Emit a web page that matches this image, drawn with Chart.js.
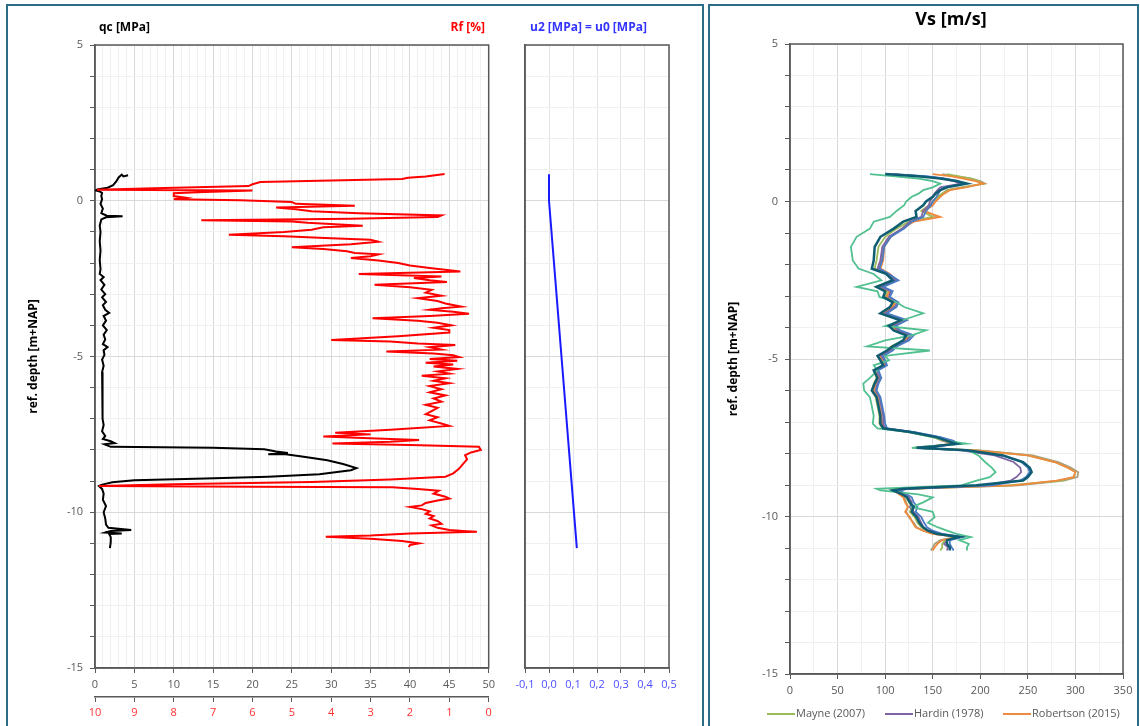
<!DOCTYPE html>
<html>
<head>
<meta charset="utf-8">
<script src="https://cdn.jsdelivr.net/npm/chart.js@4.4.1/dist/chart.umd.min.js"></script>
<style>
  body { margin: 0; background: #fff; width: 1140px; height: 726px; overflow: hidden; position: relative; }
  .panel { position: absolute; border: 2px solid #2b6c86; box-sizing: border-box; }
  canvas { position: absolute; top: 0; }
</style>
</head>
<body>
<div class="panel" style="left:6px;top:4px;width:698px;height:740px"></div>
<div class="panel" style="left:708px;top:4px;width:431px;height:740px"></div>
<canvas id="cptChart" width="500" height="726" style="left:0"></canvas>
<canvas id="u2Chart" width="200" height="726" style="left:500px"></canvas>
<canvas id="vsChart" width="430" height="726" style="left:710px"></canvas>
<script>
// cone resistance qc [MPa] against depth [m+NAP]
var qcDepth = [0.82, 0.78, 0.84, 0.75, 0.62, 0.50, 0.42, 0.36, 0.33, 0.30, 0.25, 0.15, 0.05, -0.10, -0.25, -0.40, -0.48, -0.50, -0.53, -0.60,
  -0.80, -1.00, -1.30, -1.60, -1.90, -2.20, -2.35, -2.45, -2.55, -2.70, -2.85, -3.00, -3.10, -3.25, -3.35, -3.50, -3.60, -3.70, -3.85, -4.00,
  -4.15, -4.30, -4.45, -4.60, -4.70, -4.80, -4.95, -5.10, -5.30, -5.50, -5.80, -6.10, -6.40, -6.70, -7.00, -7.20, -7.40, -7.55, -7.65, -7.72,
  -7.78, -7.82, -7.90, -7.93, -7.98, -8.05, -8.10, -8.14, -8.13, -8.22, -8.33, -8.45, -8.58, -8.65, -8.78, -8.86, -8.92, -8.97, -9.04, -9.12,
  -9.16, -9.25, -9.40, -9.60, -9.80, -10.00, -10.20, -10.40, -10.50, -10.57, -10.60, -10.65, -10.68, -10.70, -10.80, -10.95, -11.15];
var qcValues = [4.2, 3.6, 3.4, 3.0, 2.7, 2.3, 1.6, 0.3, 0.1, 0.6, 0.9, 0.8, 0.9, 0.7, 1.0, 0.8, 1.5, 3.5, 1.4, 0.8,
  0.6, 0.7, 0.6, 0.7, 0.6, 0.7, 0.6, 1.1, 0.7, 1.2, 0.8, 1.3, 0.9, 1.4, 1.0, 1.3, 1.8, 1.1, 1.4, 1.0,
  1.5, 1.1, 1.3, 1.0, 1.6, 1.1, 1.2, 0.9, 1.1, 0.9, 1.0, 0.9, 1.0, 0.9, 1.0, 1.1, 0.9, 1.3, 1.0, 2.0,
  2.5, 1.2, 2.0, 15.0, 21.5, 23.0, 24.5, 22.0, 24.0, 26.5, 29.5, 31.5, 33.2, 32.5, 28.5, 22.0, 14.0, 5.0, 2.2, 0.8,
  0.5, 0.9, 1.1, 1.0, 1.4, 1.1, 1.3, 1.4, 1.7, 4.6, 2.0, 1.3, 3.4, 1.8, 2.0, 2.0, 1.9];

// friction ratio Rf [%]
var rfDepth = [0.86, 0.78, 0.74, 0.70, 0.60, 0.53, 0.47, 0.40, 0.35, 0.33, 0.27, 0.24, 0.15, 0.10, 0.05, 0.02, -0.04, -0.10, -0.16, -0.22,
  -0.27, -0.34, -0.40, -0.47, -0.52, -0.58, -0.63, -0.67, -0.71, -0.80, -0.85, -0.93, -1.00, -1.09, -1.14, -1.20, -1.25, -1.32, -1.40, -1.49,
  -1.55, -1.62, -1.68, -1.72, -1.78, -1.84, -1.92, -2.00, -2.08, -2.16, -2.27, -2.35, -2.43, -2.48, -2.55, -2.61, -2.70, -2.78, -2.86, -2.95,
  -3.05, -3.13, -3.22, -3.30, -3.40, -3.45, -3.50, -3.56, -3.63, -3.70, -3.77, -3.85, -3.92, -4.00, -4.08, -4.15, -4.23, -4.35, -4.47, -4.52,
  -4.58, -4.63, -4.70, -4.78, -4.84, -4.90, -4.96, -5.02, -5.08, -5.14, -5.20, -5.26, -5.32, -5.40, -5.48, -5.55, -5.62, -5.70, -5.78, -5.86,
  -5.95, -6.05, -6.15, -6.25, -6.35, -6.45, -6.55, -6.65, -6.75, -6.85, -6.95, -7.05, -7.15, -7.23, -7.35, -7.45, -7.50, -7.57, -7.62, -7.68,
  -7.74, -7.79, -7.84, -7.90, -8.00, -8.08, -8.17, -8.30, -8.45, -8.60, -8.75, -8.86, -8.95, -9.03, -9.10, -9.16, -9.18, -9.20, -9.25, -9.31,
  -9.40, -9.50, -9.56, -9.62, -9.70, -9.78, -9.83, -9.90, -9.97, -10.05, -10.12, -10.20, -10.28, -10.37, -10.42, -10.50, -10.57, -10.63, -10.68, -10.75,
  -10.79, -10.85, -10.92, -11.00, -11.05, -11.12];
var rfValues = [1.12, 1.6, 2.05, 2.2, 5.8, 6.0, 6.1, 8.5, 9.95, 6.0, 7.4, 8.0, 8.0, 7.7, 8.0, 6.3, 5.0, 4.9, 3.4, 5.4,
  4.9, 4.5, 3.3, 1.2, 1.3, 3.5, 7.3, 5.0, 4.6, 3.2, 4.2, 4.5, 5.2, 6.6, 5.2, 4.0, 3.0, 2.8, 3.5, 5.0,
  4.2, 3.6, 3.4, 2.8, 3.0, 3.5, 2.8, 2.3, 2.0, 1.5, 0.72, 3.3, 1.2, 1.9, 1.5, 1.06, 2.9, 2.0, 1.45, 1.6,
  1.2, 1.8, 1.3, 1.1, 0.7, 1.2, 1.5, 0.9, 0.5, 1.5, 2.95, 1.8, 1.3, 0.95, 1.4, 1.0, 1.0, 2.3, 4.0, 2.5,
  1.8, 0.85, 1.5, 1.2, 2.6, 1.4, 0.9, 0.75, 1.5, 0.8, 1.6, 0.9, 1.4, 0.8, 1.3, 1.0, 1.7, 1.1, 1.4, 1.0,
  1.5, 1.2, 1.5, 1.1, 1.4, 1.2, 1.6, 1.3, 1.45, 1.6, 1.3, 1.5, 1.2, 1.0, 2.5, 3.9, 3.0, 4.2, 3.2, 1.77,
  2.5, 3.97, 2.0, 0.25, 0.2, 0.45, 0.6, 0.55, 0.65, 0.75, 0.9, 1.1, 2.5, 4.5, 8.0, 9.9, 6.0, 2.45, 1.8, 1.27,
  1.4, 1.1, 1.0, 1.3, 1.6, 1.7, 2.0, 1.7, 1.5, 1.6, 1.4, 1.5, 1.3, 1.2, 1.45, 1.3, 1.0, 0.3, 2.0, 3.0,
  4.14, 3.0, 2.2, 1.77, 2.0, 2.03];

// pore pressure u2 = u0 [MPa]
var u2Depth = [0.85, 0.0, -11.15];
var u2Values = [0.0, 0.0, 0.116];

// shear wave velocity Vs [m/s], all correlations share one depth list
var vsDepth = [0.87, 0.80, 0.73, 0.65, 0.57, 0.45, 0.36, 0.25, 0.15, 0.0, -0.12, -0.30, -0.49, -0.64, -0.86, -1.12, -1.44, -1.87, -2.13, -2.30,
  -2.50, -2.71, -2.85, -3.03, -3.20, -3.35, -3.55, -3.77, -3.95, -4.09, -4.25, -4.41, -4.60, -4.73, -4.90, -5.04, -5.20, -5.36, -5.60, -5.78,
  -6.00, -6.21, -6.50, -6.80, -7.05, -7.20, -7.32, -7.48, -7.60, -7.69, -7.78, -7.82, -7.90, -8.06, -8.27, -8.45, -8.59, -8.75, -8.86, -9.01,
  -9.12, -9.17, -9.30, -9.39, -9.55, -9.70, -9.85, -10.02, -10.20, -10.34, -10.45, -10.55, -10.65, -10.75, -10.87, -10.98, -11.08];
var vsMayne = [165, 178, 190, 198, 203, 182, 166, 160, 155, 150, 146, 138, 150, 125, 112, 100, 93, 91, 89, 102,
  108, 90, 102, 100, 110, 108, 97, 118, 106, 110, 124, 120, 106, 103, 93, 96, 97, 88, 91, 88,
  86, 90, 92, 94, 94, 97, 125, 150, 162, 174, 148, 132, 196, 250, 278, 292, 300, 298, 285, 230,
  120, 108, 117, 122, 125, 128, 126, 131, 134, 138, 144, 153, 176, 163, 160, 160, 158];
var vsHardin = [105, 140, 160, 172, 180, 158, 155, 152, 150, 147, 146, 140, 138, 126, 118, 104, 97, 95, 92, 103,
  112, 96, 106, 104, 113, 110, 100, 121, 109, 114, 127, 123, 110, 106, 96, 99, 101, 91, 95, 92,
  90, 94, 96, 98, 98, 100, 130, 156, 170, 178, 152, 134, 180, 215, 235, 242, 243, 238, 232, 205,
  120, 112, 120, 125, 128, 126, 130, 135, 138, 140, 146, 156, 180, 166, 162, 166, 165];
var vsRobertson = [150, 170, 182, 195, 203, 185, 168, 162, 158, 153, 150, 140, 158, 130, 118, 106, 99, 98, 95, 105,
  112, 96, 105, 101, 111, 107, 99, 118, 107, 112, 125, 121, 111, 104, 94, 96, 99, 89, 93, 90,
  88, 92, 94, 96, 97, 100, 128, 152, 162, 174, 146, 130, 195, 250, 278, 292, 300, 298, 280, 235,
  122, 110, 115, 119, 121, 124, 121, 126, 129, 132, 140, 150, 178, 160, 155, 152, 150];
var vsAqua = [84, 110, 135, 150, 158, 150, 140, 135, 128, 122, 120, 112, 105, 88, 84, 70, 64, 66, 72, 88,
  96, 70, 92, 94, 112, 120, 140, 118, 100, 143, 128, 100, 81, 147, 100, 104, 88, 92, 84, 77,
  78, 84, 86, 88, 87, 92, 125, 150, 165, 185, 140, 128, 188, 198, 205, 212, 216, 210, 196, 180,
  91, 95, 135, 150, 140, 128, 150, 152, 145, 155, 165, 175, 190, 178, 188, 186, 186];
var vsTan = [160, 175, 190, 200, 205, 180, 165, 160, 157, 152, 150, 142, 155, 128, 118, 105, 98, 96, 94, 104,
  110, 95, 104, 102, 110, 108, 100, 119, 108, 112, 126, 122, 112, 105, 95, 97, 100, 90, 93, 90,
  88, 93, 94, 96, 96, 99, 128, 152, 160, 172, 146, 130, 200, 255, 282, 295, 303, 302, 288, 240,
  125, 112, 116, 120, 122, 124, 122, 125, 130, 133, 140, 150, 175, 158, 152, 150, 148];
var vsBlue = [110, 145, 162, 176, 183, 162, 158, 156, 154, 150, 148, 143, 140, 128, 120, 106, 99, 97, 94, 104,
  114, 98, 108, 105, 114, 112, 102, 123, 111, 116, 130, 125, 112, 108, 98, 100, 102, 93, 96, 93,
  91, 95, 97, 99, 100, 102, 131, 158, 172, 176, 150, 134, 184, 222, 243, 250, 252, 248, 242, 212,
  124, 115, 123, 128, 130, 134, 132, 138, 141, 144, 150, 160, 182, 168, 168, 170, 172];
var vsTeal = [100, 135, 158, 175, 186, 165, 158, 153, 150, 143, 140, 132, 133, 119, 109, 95, 89, 88, 86, 101,
  108, 91, 100, 98, 108, 105, 95, 116, 104, 109, 122, 119, 108, 102, 92, 95, 98, 88, 92, 89,
  86, 91, 93, 95, 95, 98, 126, 154, 165, 175, 150, 133, 186, 224, 245, 252, 254, 250, 245, 196,
  119, 108, 118, 123, 126, 130, 128, 133, 136, 140, 145, 154, 178, 165, 165, 168, 168];

function pairs(xs, ys) {
  return ys.map(function (d, i) { return { x: xs[i], y: d }; });
}

Chart.defaults.font.family = "'Open Sans', sans-serif";
Chart.defaults.font.size = 11;
Chart.defaults.color = '#595959';

// plot frame, panel titles and a line-sample legend
var frameAndText = {
  id: 'frameAndText',
  beforeDatasetsDraw: function (chart) {
    var ctx = chart.ctx, a = chart.chartArea;
    ctx.save();
    ctx.strokeStyle = '#595959';
    ctx.lineWidth = 1.5;
    ctx.strokeRect(a.left, a.top, a.right - a.left, a.bottom - a.top);
    ctx.restore();
  },
  afterDraw: function (chart, args, opts) {
    var ctx = chart.ctx;
    ctx.save();
    ctx.textBaseline = 'middle';
    (opts.texts || []).forEach(function (t) {
      ctx.font = t.font;
      ctx.fillStyle = t.color;
      ctx.textAlign = t.align;
      ctx.fillText(t.text, t.x, t.y);
    });
    (opts.legend || []).forEach(function (item) {
      var ds = chart.data.datasets[item.index];
      ctx.strokeStyle = ds.borderColor;
      ctx.lineWidth = 2;
      ctx.beginPath();
      ctx.moveTo(item.x, item.y);
      ctx.lineTo(item.x + 28, item.y);
      ctx.stroke();
      ctx.font = "11px 'Open Sans'";
      ctx.fillStyle = '#595959';
      ctx.textAlign = 'left';
      ctx.fillText(ds.label, item.x + 29, item.y);
    });
    ctx.restore();
  }
};

function majorGrid(step) {
  return function (c) { return c.tick && c.tick.value % step === 0 ? '#d9d9d9' : '#f0f0f0'; };
}

function depthAxis(width, titlePad, showLabels) {
  return {
    min: -15, max: 5,
    ticks: { stepSize: 1, autoSkip: false, display: showLabels, padding: 7,
      callback: function (v) { return v % 5 === 0 ? v : ''; } },
    grid: { color: majorGrid(5), tickColor: '#595959', tickLength: 5, drawTicks: showLabels },
    border: { color: '#595959', width: 1.5 },
    title: { display: showLabels, text: 'ref. depth [m+NAP]', color: '#000',
      font: { size: 12, weight: 'bold' }, padding: { top: titlePad, bottom: 0 } },
    afterFit: function (s) { s.width = width; }
  };
}

new Chart(document.getElementById('cptChart'), {
  type: 'scatter',
  data: {
    datasets: [{
      label: 'Rf [%]',
      data: pairs(rfValues, rfDepth),
      xAxisID: 'xRf',
      borderColor: '#ff0000',
      borderWidth: 2,
      showLine: true,
      pointRadius: 0
    }, {
      label: 'qc [MPa]',
      data: pairs(qcValues, qcDepth),
      xAxisID: 'x',
      borderColor: '#000000',
      borderWidth: 2,
      showLine: true,
      pointRadius: 0
    }]
  },
  options: {
    responsive: false,
    animation: false,
    layout: { padding: { top: 45, right: 10, bottom: 0, left: 0 } },
    plugins: {
      legend: { display: false },
      tooltip: { enabled: false },
      frameAndText: { texts: [
        { text: 'qc [MPa]', x: 99, y: 28, align: 'left', color: '#000', font: "bold 12px 'Open Sans'" },
        { text: 'Rf [%]', x: 485, y: 28, align: 'right', color: '#ff0000', font: "bold 12px 'Open Sans'" }
      ] }
    },
    scales: {
      x: {
        type: 'linear', axis: 'x', position: 'bottom', min: 0, max: 50,
        ticks: { stepSize: 1, autoSkip: false, maxRotation: 0, padding: 5,
          callback: function (v) { return v % 5 === 0 ? v : ''; } },
        grid: { color: majorGrid(5), tickLength: 5,
          tickColor: function (c) { return c.tick.value % 5 === 0 ? '#595959' : 'rgba(0,0,0,0)'; } },
        border: { color: '#595959', width: 1.5 },
        afterFit: function (s) { s.height = 29; }
      },
      xRf: {
        type: 'linear', axis: 'x', position: 'bottom', min: 0, max: 10, reverse: true,
        ticks: { stepSize: 1, maxRotation: 0, padding: 4, color: '#ff3030' },
        grid: { drawOnChartArea: false, tickLength: 5, tickColor: '#595959' },
        border: { color: '#595959', width: 1.5 },
        afterFit: function (s) { s.height = 29; }
      },
      y: depthAxis(95, 26, true)
    }
  },
  plugins: [frameAndText]
});

new Chart(document.getElementById('u2Chart'), {
  type: 'scatter',
  data: {
    datasets: [{
      label: 'u2 [MPa] = u0 [MPa]',
      data: pairs(u2Values, u2Depth),
      borderColor: '#1a1aff',
      borderWidth: 2,
      showLine: true,
      pointRadius: 0
    }]
  },
  options: {
    responsive: false,
    animation: false,
    layout: { padding: { top: 45, right: 31, bottom: 29, left: 0 } },
    plugins: {
      legend: { display: false },
      tooltip: { enabled: false },
      frameAndText: { texts: [
        { text: 'u2 [MPa] = u0 [MPa]', x: 30, y: 28, align: 'left', color: '#3333ff', font: "bold 12px 'Open Sans'" }
      ] }
    },
    scales: {
      x: {
        min: -0.1, max: 0.5,
        ticks: { stepSize: 0.1, maxRotation: 0, padding: 5, color: '#4d4dff',
          callback: function (v) {
            var r = Math.abs(v) < 1e-9 ? 0 : v;
            return r.toFixed(1).replace('.', ',');
          } },
        grid: { color: '#e3e3e3', tickColor: '#595959', tickLength: 5 },
        border: { color: '#595959', width: 1.5 },
        afterFit: function (s) { s.height = 29; }
      },
      y: depthAxis(25, 0, false)
    }
  },
  plugins: [frameAndText]
});

function vsLine(label, values, color, width, order) {
  return {
    label: label,
    data: pairs(values, vsDepth),
    borderColor: color,
    backgroundColor: color,
    borderWidth: width,
    showLine: true,
    pointRadius: 0,
    order: order
  };
}

new Chart(document.getElementById('vsChart'), {
  type: 'scatter',
  data: {
    datasets: [
      vsLine('Mayne (2007)', vsMayne, '#9bbb59', 1.8, 5),
      vsLine('Hardin (1978)', vsHardin, '#8064a2', 1.8, 3),
      vsLine('Robertson (2015)', vsRobertson, '#f08a3e', 1.8, 4),
      vsLine('', vsAqua, '#52c090', 1.8, 1),
      vsLine('', vsTan, '#a89f80', 1.8, 6),
      vsLine('', vsBlue, '#4a7bc4', 1.8, 2),
      vsLine('', vsTeal, '#0f5d72', 2.5, 0)
    ]
  },
  options: {
    responsive: false,
    animation: false,
    layout: { padding: { top: 44, right: 17, bottom: 23, left: 0 } },
    plugins: {
      legend: { display: false },
      tooltip: { enabled: false },
      frameAndText: {
        texts: [
          { text: 'Vs [m/s]', x: 241, y: 20, align: 'center', color: '#000', font: "bold 18px 'Open Sans'" }
        ],
        legend: [
          { index: 0, x: 57, y: 714 },
          { index: 1, x: 175, y: 714 },
          { index: 2, x: 293, y: 714 }
        ]
      }
    },
    scales: {
      x: {
        min: 0, max: 350,
        ticks: { stepSize: 25, autoSkip: false, maxRotation: 0, padding: 5,
          callback: function (v) { return v % 50 === 0 ? v : ''; } },
        grid: { color: majorGrid(50), tickLength: 5,
          tickColor: function (c) { return c.tick.value % 50 === 0 ? '#595959' : 'rgba(0,0,0,0)'; } },
        border: { color: '#595959', width: 1.5 },
        afterFit: function (s) { s.height = 29; }
      },
      y: depthAxis(80, 16, true)
    }
  },
  plugins: [frameAndText]
});
</script>
</body>
</html>
